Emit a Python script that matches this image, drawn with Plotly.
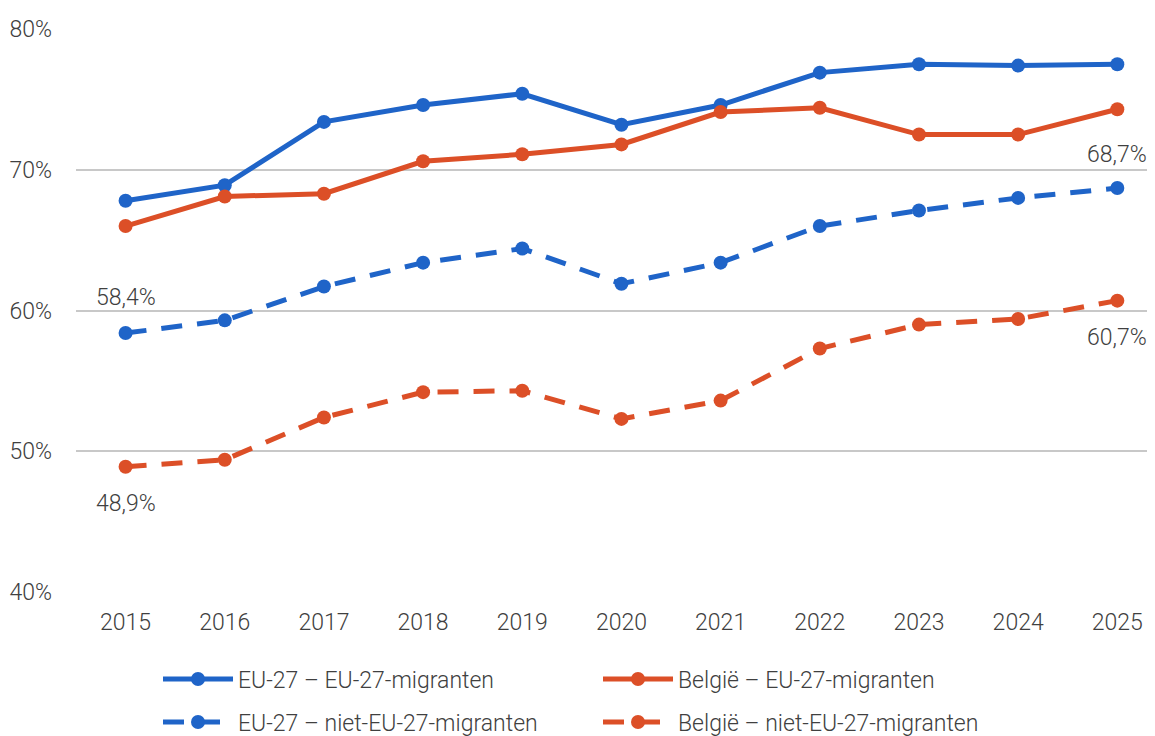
import plotly.graph_objects as go

# data (percent)
years = [2015, 2016, 2017, 2018, 2019, 2020, 2021, 2022, 2023, 2024, 2025]
eu27_eu = [67.8, 68.9, 73.4, 74.6, 75.4, 73.2, 74.6, 76.9, 77.5, 77.4, 77.5]
be_eu = [66.0, 68.1, 68.3, 70.6, 71.1, 71.8, 74.1, 74.4, 72.5, 72.5, 74.3]
eu27_noneu = [58.4, 59.3, 61.7, 63.4, 64.4, 61.9, 63.4, 66.0, 67.1, 68.0, 68.7]
be_noneu = [48.9, 49.4, 52.4, 54.2, 54.3, 52.3, 53.6, 57.3, 59.0, 59.4, 60.7]

names = ["EU-27 – EU-27-migranten", "België – EU-27-migranten",
         "EU-27 – niet-EU-27-migranten", "België – niet-EU-27-migranten"]

BLUE = "#1f64c8"
ORANGE = "#dc4f27"
FONT = "Roboto, sans-serif"
TXT = "#404040"

fig = go.Figure()
series = [
    (eu27_eu, names[0], BLUE, "solid", "legend"),
    (be_eu, names[1], ORANGE, "solid", "legend"),
    (eu27_noneu, names[2], BLUE, "21px,15px", "legend2"),
    (be_noneu, names[3], ORANGE, "21px,15px", "legend2"),
]
for vals, name, color, dash, leg in series:
    fig.add_trace(go.Scatter(
        x=years, y=vals, name=name, mode="lines+markers",
        line=dict(color=color, width=5, dash=dash),
        marker=dict(color=color, size=14),
        legend=leg,
    ))

# value labels at the ends of the non-EU series
labels = [
    (years[0], eu27_noneu[0], 36),
    (years[0], be_noneu[0], -37),
    (years[-1], eu27_noneu[-1], 34),
    (years[-1], be_noneu[-1], -37),
]
for x, y, shift in labels:
    fig.add_annotation(x=x, y=y, text=f"{y:.1f}%".replace(".", ","),
                       showarrow=False, yshift=shift,
                       font=dict(family=FONT, size=23, color=TXT, weight=300))

# the page body adds an 8px offset, so the figure is drawn 8px smaller
leg_style = dict(orientation="h", x=0.076, xanchor="left", yanchor="middle",
                 entrywidth=355, itemwidth=70, font=dict(size=23),
                 bgcolor="rgba(0,0,0,0)")
fig.update_layout(
    width=1147, height=728,
    margin=dict(l=68, r=0, t=21, b=144, autoexpand=False),
    plot_bgcolor="white", paper_bgcolor="white",
    font=dict(family=FONT, size=23, color=TXT, weight=300),
    xaxis=dict(range=[2014.5, 2025.38], tickmode="array", tickvals=years,
               showgrid=False, zeroline=False, showline=False,
               automargin=False, ticklabelstandoff=14),
    yaxis=dict(range=[40, 80], dtick=10, ticksuffix="%",
               gridcolor="#c8c8c8", gridwidth=1.5, zeroline=False,
               showline=False, automargin=False, ticklabelstandoff=23),
    legend=dict(leg_style, y=-0.1545),
    legend2=dict(leg_style, y=-0.231),
    showlegend=True,
)

fig.write_html("out.html")
